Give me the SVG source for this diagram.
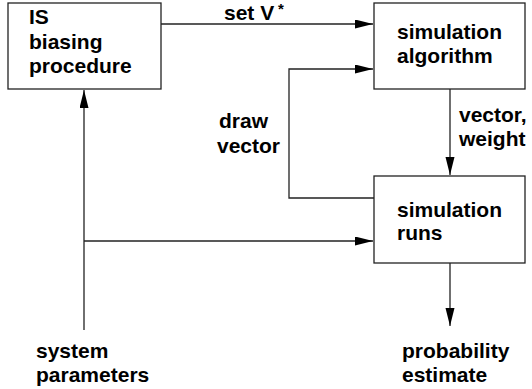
<svg xmlns="http://www.w3.org/2000/svg" width="532" height="389" viewBox="0 0 532 389">
<style>
.box{fill:#fff;stroke:#222;stroke-width:1.3}
.t{font-family:"Liberation Sans",Arial,sans-serif;font-weight:bold;font-size:21px;fill:#000}
.c{fill:none;stroke:#222;stroke-width:1.3}
</style>
<defs>
<marker id="ah" markerUnits="userSpaceOnUse" markerWidth="20" markerHeight="12" refX="18" refY="4.5" orient="auto">
<path d="M0,0 L18,4.5 L0,9 Z" fill="#000"/>
</marker>
</defs>
<g id="is-biasing">
<rect class="box" x="8" y="3" width="153" height="86"/>
<text class="t" x="29" y="24">IS</text>
<text class="t" x="29" y="49">biasing</text>
<text class="t" x="29" y="73">procedure</text>
</g>
<g id="sim-algorithm">
<rect class="box" x="374" y="3" width="151" height="86"/>
<text class="t" x="397" y="39">simulation</text>
<text class="t" x="397" y="63">algorithm</text>
</g>
<g id="sim-runs">
<rect class="box" x="374" y="176" width="151" height="87"/>
<text class="t" x="397" y="217">simulation</text>
<text class="t" x="397" y="240">runs</text>
</g>
<g id="system-parameters">
<text class="t" x="36" y="358">system</text>
<text class="t" x="36" y="382">parameters</text>
</g>
<g id="probability-estimate">
<text class="t" x="402" y="358">probability</text>
<text class="t" x="402" y="382">estimate</text>
</g>
<g id="connectors">
<path class="c" d="M161,24 H373" marker-end="url(#ah)"/>
<path class="c" d="M374,198 H289 V69 H373" marker-end="url(#ah)"/>
<path class="c" d="M450,89 V175" marker-end="url(#ah)"/>
<path class="c" d="M84,330 V90" marker-end="url(#ah)"/>
<path class="c" d="M84,241 H373" marker-end="url(#ah)"/>
<path class="c" d="M450,263 V326" marker-end="url(#ah)"/>
<text class="t" x="224" y="20">set V</text>
<text class="t" x="278" y="14" style="font-size:15px">*</text>
<text class="t" x="219" y="128">draw</text>
<text class="t" x="217" y="153">vector</text>
<text class="t" x="459" y="122">vector,</text>
<text class="t" x="459" y="146">weight</text>
</g>
</svg>
